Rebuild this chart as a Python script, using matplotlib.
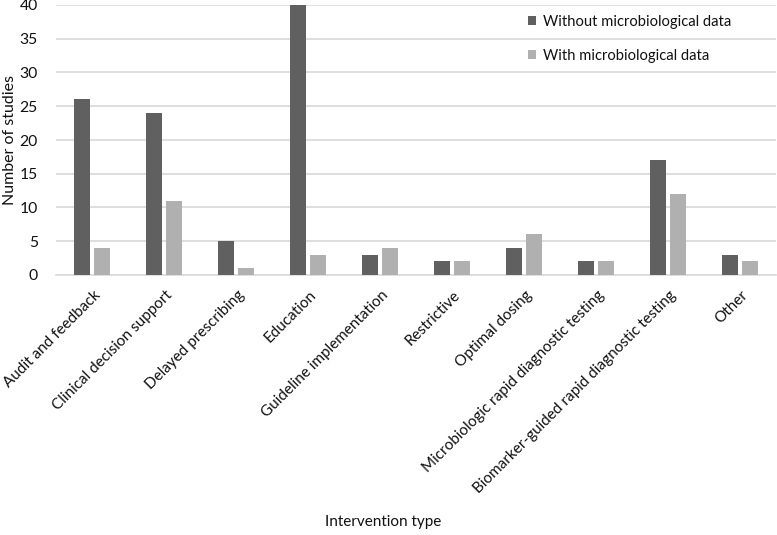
import matplotlib
matplotlib.use("Agg")
import matplotlib.pyplot as plt
import matplotlib.transforms as mtransforms
import numpy as np

categories = ["Audit and feedback", "Clinical decision support", "Delayed prescribing",
              "Education", "Guideline implementation", "Restrictive", "Optimal dosing",
              "Microbiologic rapid diagnostic testing",
              "Biomarker-guided rapid diagnostic testing", "Other"]
without_micro = [26, 24, 5, 40, 3, 2, 4, 2, 17, 3]
with_micro = [4, 11, 1, 3, 4, 2, 6, 2, 12, 2]
series_labels = ["Without microbiological data", "With microbiological data"]
yticks = [0, 5, 10, 15, 20, 25, 30, 35, 40]

plt.rcParams['font.family'] = ['Lato', 'DejaVu Sans']

fig = plt.figure(figsize=(7.77, 5.35), dpi=100)
ax = fig.add_axes([56/777, 1-275/535, 720/777, 270/535])

x = np.arange(len(categories))
w = 0.222
off = 0.139
dark = "#606060"
light = "#b0b0b0"
ax.bar(x - off, without_micro, w, color=dark, label=series_labels[0], zorder=3)
ax.bar(x + off, with_micro, w, color=light, label=series_labels[1], zorder=3)

ax.set_xlim(-0.5, len(categories) - 0.5)
ax.set_ylim(0, 40)
ax.set_yticks(yticks)
ax.yaxis.grid(True, color="#d9d9d9", linewidth=1.2, zorder=0)
for s in ["top", "right", "left"]:
    ax.spines[s].set_visible(False)
ax.spines["bottom"].set_color("#d9d9d9")
ax.spines["bottom"].set_linewidth(1.2)
ax.tick_params(axis="y", length=0, labelsize=11.3, labelcolor="#111111", pad=13)
ax.tick_params(axis="x", length=0, labelsize=11, labelcolor="#111111")

ax.set_xticks(x)
ax.set_xticklabels(categories, rotation=45, ha="right", va="top", rotation_mode="anchor")
offset = mtransforms.ScaledTranslation(1/100, -8/100, fig.dpi_scale_trans)
for lab in ax.get_xticklabels():
    lab.set_transform(lab.get_transform() + offset)

fig.text(10/777, 1-140/535, "Number of studies", rotation=90, ha="center", va="center",
         fontsize=11.5, color="#111111")
fig.text(383/777, 1-522/535, "Intervention type", ha="center", va="center",
         fontsize=11, color="#111111")

leg = ax.legend(loc="upper left", bbox_to_anchor=((522 - 56) / 720, 1 - (9 - 5) / 270),
                frameon=False, fontsize=10.6, handlelength=0.55, handleheight=0.6,
                handletextpad=0.45, labelspacing=1.35, borderaxespad=0)
for t in leg.get_texts():
    t.set_color("#111111")

fig.savefig("out.png", dpi=100)
